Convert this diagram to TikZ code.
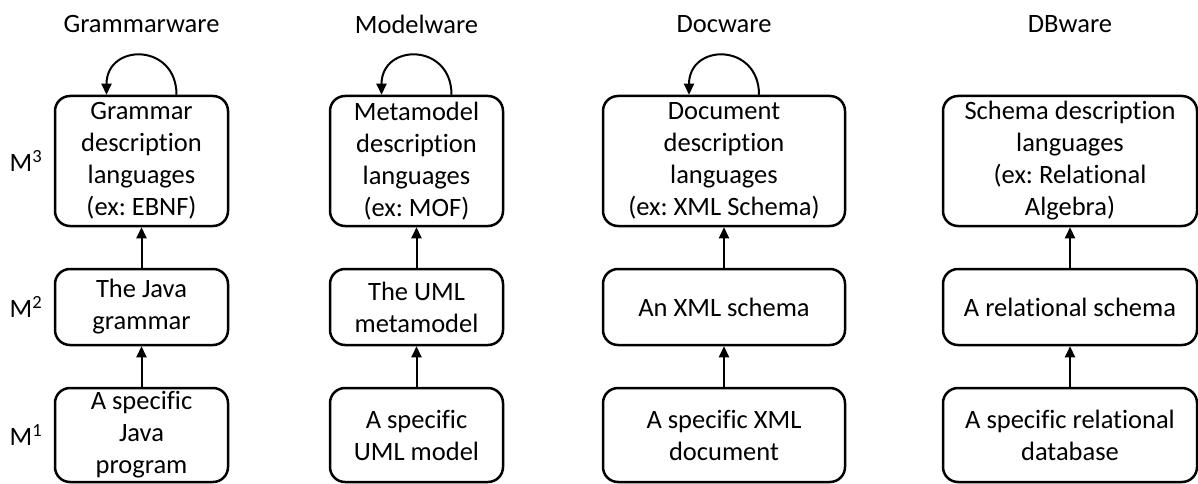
\documentclass[tikz,border=0pt]{standalone}
\usepackage{fontspec}
\setmainfont{Carlito}[Ligatures=CommonOff]
\frenchspacing
\usetikzlibrary{positioning,calc,arrows.meta}

\begin{document}
\begin{tikzpicture}[x=1pt,y=-1pt,
    font=\fontsize{26.5}{32}\selectfont,
    >={Triangle[length=11pt,width=10pt]}]
\useasboundingbox (0,0) rectangle (1198,484);

% titles and levels
\node (tg) at (141.5,24) {Grammarware};
\node (tm) at (416.5,24) {Modelware};
\node (td) at (724,24) {Docware};
\node (tb) at (1070,24) {DBware};
\node (m3) at (26,161) {M\textsuperscript{3}};
\node (m2) at (26,307) {M\textsuperscript{2}};
\node (m1) at (26,435) {M\textsuperscript{1}};

\begin{scope}[every node/.style={draw,line width=2.5pt,rounded corners=15pt,
                                  align=center,inner sep=0pt}]
    % M3
    \node[minimum width=173,minimum height=130] (g3) at (141.5,161) {Grammar\\description\\languages\\(ex: EBNF)};
    \node[minimum width=173,minimum height=130] (mo3) at (416.5,161) {Metamodel\\description\\languages\\(ex: MOF)};
    \node[minimum width=242,minimum height=130] (d3) at (724,161) {Document\\description\\languages\\(ex: XML Schema)};
    \node[minimum width=254,minimum height=130] (b3) at (1070,161) {Schema description\\languages\\(ex: Relational\\Algebra)};
    % M2
    \node[minimum width=173,minimum height=76] (g2) at (141.5,307) {The Java\\grammar};
    \node[minimum width=173,minimum height=76] (mo2) at (416.5,307) {The UML\\metamodel};
    \node[minimum width=242,minimum height=76] (d2) at (724,307) {An XML schema};
    \node[minimum width=254,minimum height=76] (b2) at (1070,307) {A relational schema};
    % M1
    \node[minimum width=173,minimum height=94] (g1) at (141.5,435) {A specific\\Java\\program};
    \node[minimum width=173,minimum height=94] (mo1) at (416.5,435) {A specific\\UML model};
    \node[minimum width=242,minimum height=94] (d1) at (724,435) {A specific XML\\document};
    \node[minimum width=254,minimum height=94] (b1) at (1070,435) {A specific relational\\database};
\end{scope}

\begin{scope}[line width=2pt]
    \foreach \c in {g,mo,d,b}{
        \draw[->] (\c1) -- (\c2);
        \draw[->] (\c2) -- (\c3);
    }
    \foreach \c in {g,mo,d}{
        \draw[->] ([xshift=35pt]\c3.north) .. controls +(0,-52) and +(0,-52) .. ([xshift=-35pt]\c3.north);
    }
\end{scope}
\end{tikzpicture}
\end{document}
